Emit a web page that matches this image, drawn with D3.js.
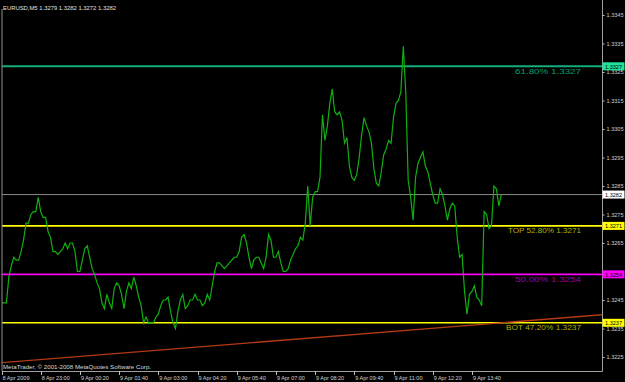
<!DOCTYPE html>
<html lang="en">
<head>
<meta charset="UTF-8">
<title>EURUSD,M5</title>
<style>
  body { margin: 0; background: #000; }
  svg { display: block; }
  text { font-family: "Liberation Sans", Arial, sans-serif; }
</style>
<script src="https://cdn.jsdelivr.net/npm/d3@7/dist/d3.min.js"></script>
</head>
<body>
<script>
// EURUSD M5 closes, one per bar, starting 8 Apr 2009 21:40
const closes = [
  1.3244,1.3244,1.3244,1.3253,1.3257,1.3260,1.3259,1.3259,1.3262,1.3266,
  1.3272,1.3272,1.3275,1.3276,1.3276,1.3281,1.3276,1.3274,1.3274,1.3269,
  1.3267,1.3262,1.3262,1.3261,1.3262,1.3263,1.3265,1.3263,1.3265,1.3265,
  1.3262,1.3255,1.3255,1.3259,1.3263,1.3264,1.3260,1.3256,1.3254,1.3251,
  1.3249,1.3244,1.3242,1.3247,1.3244,1.3242,1.3249,1.3251,1.3250,1.3247,
  1.3242,1.3248,1.3251,1.3249,1.3253,1.3250,1.3246,1.3243,1.3237,1.3239,
  1.3237,1.3237,1.3237,1.3239,1.3240,1.3243,1.3245,1.3245,1.3246,1.3241,
  1.3237,1.3235,1.3241,1.3245,1.3247,1.3242,1.3243,1.3245,1.3245,1.3247,
  1.3245,1.3245,1.3243,1.3244,1.3247,1.3245,1.3250,1.3255,1.3258,1.3258,
  1.3257,1.3256,1.3257,1.3258,1.3259,1.3260,1.3260,1.3262,1.3267,1.3268,
  1.3265,1.3260,1.3256,1.3259,1.3260,1.3260,1.3258,1.3256,1.3260,1.3268,
  1.3266,1.3260,1.3260,1.3262,1.3258,1.3255,1.3255,1.3256,1.3259,1.3261,
  1.3263,1.3264,1.3267,1.3266,1.3272,1.3285,1.3271,1.3281,1.3283,1.3283,
  1.3288,1.3310,1.3301,1.3306,1.3314,1.3319,1.3311,1.3310,1.3311,1.3308,
  1.3300,1.3302,1.3292,1.3288,1.3287,1.3289,1.3295,1.3303,1.3309,1.3306,
  1.3304,1.3300,1.3291,1.3286,1.3285,1.3290,1.3296,1.3298,1.3301,1.3300,
  1.3309,1.3314,1.3315,1.3318,1.3334,1.3318,1.3287,1.3281,1.3273,1.3288,
  1.3293,1.3295,1.3297,1.3292,1.3290,1.3286,1.3282,1.3279,1.3279,1.3284,
  1.3282,1.3278,1.3273,1.3277,1.3279,1.3278,1.3267,1.3260,1.3261,1.3248,
  1.3240,1.3247,1.3248,1.3250,1.3246,1.3245,1.3243,1.3276,1.3275,1.3270,
  1.3271,1.3285,1.3284,1.3278,1.3282
];
const lastBar = ["1.3279", "1.3282", "1.3272", "1.3282"];
const bid = 1.3282;

const priceTicks = [1.3225,1.3235,1.3245,1.3255,1.3265,1.3275,1.3285,1.3295,1.3305,1.3315,1.3325,1.3335,1.3345];
const timeTickBars = [0,16,32,48,64,80,96,112,128,144,160,176,192];
const timeTickLabels = ["8 Apr 2009","8 Apr 23:00","9 Apr 00:20","9 Apr 01:40","9 Apr 03:00","9 Apr 04:20",
  "9 Apr 05:40","9 Apr 07:00","9 Apr 08:20","9 Apr 09:40","9 Apr 11:00","9 Apr 12:20","9 Apr 13:40"];

const levelValues = [1.3327, 1.3271, 1.3254, 1.3237];
const levelTexts = ["61.80%  1.3327", "TOP 52.80%  1.3271", "50.00%  1.3254", "BOT 47.20%  1.3237"];
const levelColors = ["#0fae7c", "#ffff00", "#ff00ff", "#ffff00"];
const levelBoxColors = ["#1ee39a", "#ffff00", "#ff00ff", "#ffff00"];
const levelTextColors = ["#00a070", "#b0b000", "#a000a0", "#b0b000"];

const trendBars = [0, 204];
const trendPrices = [1.3223, 1.3237];

const W = 625, H = 382;
const plot = { left: 2, right: 602, top: 0, bottom: 371 };

const svg = d3.select("body").append("svg").attr("width", W).attr("height", H);
svg.append("rect").attr("width", W).attr("height", H).attr("fill", "#000");

const x = d3.scaleLinear().domain([0, 1]).range([1.5, 3.95]);
const y = d3.scaleLinear().domain([1.3345, 1.3225]).range([15, 357]);

svg.append("defs").append("clipPath").attr("id", "clip")
  .append("rect").attr("x", plot.left).attr("y", plot.top)
  .attr("width", plot.right - plot.left).attr("height", plot.bottom - plot.top);

const g = svg.append("g").attr("clip-path", "url(#clip)");

// horizontal levels
g.selectAll("line.level").data(levelValues).enter().append("line")
  .attr("class", "level")
  .attr("x1", plot.left).attr("x2", plot.right)
  .attr("y1", d => y(d)).attr("y2", d => y(d))
  .attr("stroke", (d, i) => levelColors[i])
  .attr("stroke-width", (d, i) => i === 0 ? 2 : 1.6);

// bid line
g.append("line")
  .attr("x1", plot.left).attr("x2", plot.right)
  .attr("y1", y(bid)).attr("y2", y(bid))
  .attr("stroke", "#8a8a8a").attr("stroke-width", 1);

// trend line, extended to the right edge
const slope = (trendPrices[1] - trendPrices[0]) / (trendBars[1] - trendBars[0]);
const barAtEdge = x.invert(plot.right);
const barAtLeft = x.invert(0);
g.append("line")
  .attr("x1", x(barAtLeft)).attr("y1", y(trendPrices[0] + slope * (barAtLeft - trendBars[0])))
  .attr("x2", x(barAtEdge)).attr("y2", y(trendPrices[0] + slope * (barAtEdge - trendBars[0])))
  .attr("stroke", "#b23a12").attr("stroke-width", 1.4);

// price line
g.append("path")
  .datum(closes)
  .attr("fill", "none")
  .attr("stroke", "#10b010")
  .attr("stroke-width", 1.2)
  .attr("d", d3.line().x((d, i) => x(i)).y(d => y(d)));

// level captions
svg.selectAll("text.cap").data(levelTexts).enter().append("text")
  .attr("class", "cap")
  .attr("x", 581).attr("y", (d, i) => y(levelValues[i]) + 7.5)
  .attr("text-anchor", "end")
  .attr("font-size", 8)
  .attr("fill", (d, i) => levelTextColors[i])
  .attr("textLength", d => d.startsWith("TOP") ? 73 : d.startsWith("BOT") ? 75 : 66)
  .attr("lengthAdjust", "spacingAndGlyphs")
  .text(d => d);

// frame
svg.append("line").attr("x1", plot.left).attr("x2", plot.left).attr("y1", 9).attr("y2", plot.bottom)
  .attr("stroke", "#909090");
svg.append("line").attr("x1", plot.right + 0.5).attr("x2", plot.right + 0.5).attr("y1", 0).attr("y2", plot.bottom + 0.5)
  .attr("stroke", "#a0a0a0");
svg.append("line").attr("x1", plot.left).attr("x2", plot.right + 0.5).attr("y1", plot.bottom + 0.5).attr("y2", plot.bottom + 0.5)
  .attr("stroke", "#a0a0a0");

// price boxes on the axis (level lines plus bid)
const boxes = levelValues.map((v, i) => ({ v, fill: levelBoxColors[i] }))
  .concat([{ v: bid, fill: "#ffffff" }]);

// right price axis; labels hidden under a price box are dropped
const hidden = d => boxes.some(b => Math.abs(y(b.v) - y(d)) < 4);
const yAxis = svg.append("g").attr("transform", `translate(${plot.right + 0.5},0)`)
  .call(d3.axisRight(y).tickValues(priceTicks)
    .tickFormat(d => hidden(d) ? "" : d3.format(".4f")(d))
    .tickSize(2).tickPadding(2));
yAxis.select(".domain").remove();
yAxis.selectAll(".tick line").attr("stroke", "#c0c0c0");
yAxis.selectAll(".tick text").filter(d => !hidden(d))
  .attr("fill", "#d0d0d0").attr("font-size", 6.2)
  .attr("font-family", "Liberation Sans, Arial, sans-serif")
  .attr("textLength", 17).attr("lengthAdjust", "spacingAndGlyphs");
yAxis.selectAll(".tick text").filter(d => hidden(d)).remove();

const bx = svg.selectAll("g.box").data(boxes).enter().append("g").attr("class", "box")
  .attr("transform", d => `translate(${plot.right + 0.5},${y(d.v)})`);
bx.append("rect").attr("x", 0).attr("y", -4).attr("width", 22).attr("height", 8)
  .attr("fill", d => d.fill);
bx.append("text").attr("x", 2.5).attr("y", 2.3)
  .attr("font-size", 6.2).attr("fill", "#000")
  .attr("textLength", 17).attr("lengthAdjust", "spacingAndGlyphs")
  .text(d => d3.format(".4f")(d.v));

// bottom time axis
const tx = svg.append("g");
tx.selectAll("line").data(timeTickBars).enter().append("line")
  .attr("x1", d => Math.round(x(d)) + 0.5).attr("x2", d => Math.round(x(d)) + 0.5)
  .attr("y1", plot.bottom).attr("y2", plot.bottom + 4)
  .attr("stroke", "#c0c0c0");
tx.selectAll("text").data(timeTickBars).enter().append("text")
  .attr("x", d => Math.max(2, x(d) + 1)).attr("y", 380)
  .attr("font-size", 6.2).attr("fill", "#d0d0d0")
  .attr("textLength", (d, i) => i === 0 ? 27 : 28).attr("lengthAdjust", "spacingAndGlyphs")
  .text((d, i) => timeTickLabels[i]);

// title and footer
svg.append("text").attr("x", 3).attr("y", 9.5)
  .attr("font-size", 6.2).attr("fill", "#e0e0e0")
  .attr("textLength", 113).attr("lengthAdjust", "spacingAndGlyphs")
  .text("EURUSD,M5  " + lastBar.join(" "));
svg.append("text").attr("x", 3).attr("y", 369)
  .attr("font-size", 6.2).attr("fill", "#d8d8d8")
  .attr("textLength", 148).attr("lengthAdjust", "spacingAndGlyphs")
  .text("MetaTrader, \u00a9 2001-2008 MetaQuotes Software Corp.");
</script>
</body>
</html>
